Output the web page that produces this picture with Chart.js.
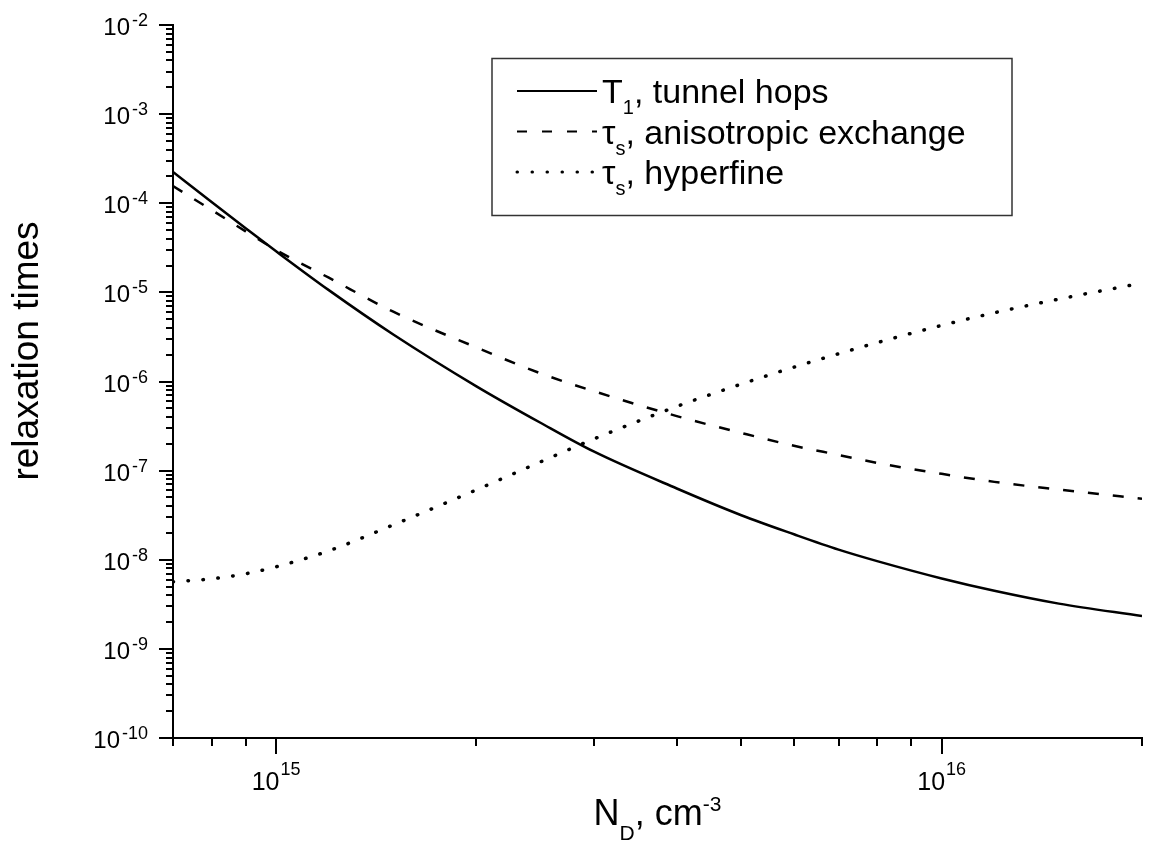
<!DOCTYPE html>
<html>
<head>
<meta charset="utf-8">
<script src="https://cdn.jsdelivr.net/npm/chart.js@4.4.1/dist/chart.umd.min.js"></script>
<style>
html,body{margin:0;padding:0;background:#fff;}
canvas{display:block;}
</style>
</head>
<body>
<canvas id="c" width="1159" height="843"></canvas>
<script>
// ---- data (N_D in cm^-3, times in s) ----
const ndValues = [7e14, 8e14, 9e14, 1e15, 1.2e15, 1.5e15, 2e15, 2.5e15, 3e15, 4e15, 5e15, 6e15, 7e15, 8e15, 1e16, 1.2e16, 1.5e16, 2e16];
const t1TunnelHops = [2.24e-4, 1.03e-4, 5.25e-5, 2.89e-5, 1.06e-5, 3.37e-6, 8.83e-7, 3.42e-7, 1.64e-7, 6.3e-8, 3.16e-8, 1.93e-8, 1.30e-8, 9.66e-9, 6.17e-9, 4.49e-9, 3.22e-9, 2.33e-9];
const tauAnisoExchange = [1.56e-4, 8.4e-5, 4.84e-5, 2.99e-5, 1.46e-5, 6.07e-6, 2.41e-6, 1.23e-6, 7.8e-7, 4.09e-7, 2.65e-7, 1.9e-7, 1.5e-7, 1.22e-7, 9.2e-8, 7.48e-8, 6.13e-8, 4.83e-8];
const tauHyperfine = [5.66e-9, 6.11e-9, 6.96e-9, 8.34e-9, 1.26e-8, 2.46e-8, 6.09e-8, 1.26e-7, 2.26e-7, 5.25e-7, 9.35e-7, 1.45e-6, 2.05e-6, 2.73e-6, 4.26e-6, 5.9e-6, 8.4e-6, 1.27e-5];
const xTickExponents = [15, 16];
const yTickExponents = [-10, -9, -8, -7, -6, -5, -4, -3, -2];
const xRange = [7e14, 2e16];
const yRange = [1e-10, 1e-2];
const legendEntries = [
  {main: 'T', sub: '1', rest: ', tunnel hops'},
  {main: 'τ', sub: 's', rest: ', anisotropic exchange'},
  {main: 'τ', sub: 's', rest: ', hyperfine'}
];
const yTitle = 'relaxation times';
const xTitle = {main: 'N', sub: 'D', mid: ', cm', sup: '-3'};

const FONT = '"Liberation Sans", Arial, Helvetica, sans-serif';
const styles = [
  {dash: [], width: 2.5, cap: 'butt'},
  {dash: [11, 14], width: 2.5, cap: 'butt'},
  {dash: [0.5, 14.5], width: 3.5, cap: 'round'}
];

function minorValues(range) {
  const out = [];
  const lo = Math.floor(Math.log10(range[0])), hi = Math.ceil(Math.log10(range[1]));
  for (let e = lo; e <= hi; e++) {
    for (let m = 1; m <= 9; m++) {
      const v = m * Math.pow(10, e);
      if (v >= range[0] * 0.999 && v <= range[1] * 1.001) out.push({v, major: m === 1});
    }
  }
  return out;
}

const deco = {
  id: 'deco',
  afterDraw(chart) {
    const ctx = chart.ctx, xs = chart.scales.x, ys = chart.scales.y, ca = chart.chartArea;
    ctx.save();
    ctx.strokeStyle = '#000';
    ctx.fillStyle = '#000';
    ctx.lineWidth = 2;
    ctx.lineCap = 'butt';
    // y ticks
    minorValues(yRange).forEach(t => {
      const py = Math.round(ys.getPixelForValue(t.v));
      const len = t.major ? 14 : 7;
      ctx.beginPath(); ctx.moveTo(ca.left, py); ctx.lineTo(ca.left - len, py); ctx.stroke();
    });
    // x ticks
    minorValues(xRange).forEach(t => {
      const px = Math.round(xs.getPixelForValue(t.v));
      const len = t.major ? 16 : 8;
      ctx.beginPath(); ctx.moveTo(px, ca.bottom); ctx.lineTo(px, ca.bottom + len); ctx.stroke();
    });
    ctx.textBaseline = 'alphabetic';
    ctx.textAlign = 'left';
    // y tick labels
    yTickExponents.forEach(e => {
      const py = ys.getPixelForValue(Math.pow(10, e));
      const supTxt = String(e);
      ctx.font = '18px ' + FONT;
      const supW = ctx.measureText(supTxt).width;
      const right = ca.left - 25;
      ctx.fillText(supTxt, right - supW, py + 1);
      ctx.font = '24px ' + FONT;
      const baseW = ctx.measureText('10').width;
      ctx.fillText('10', right - supW - 2 - baseW, py + 10);
    });
    // x tick labels
    xTickExponents.forEach(e => {
      const px = xs.getPixelForValue(Math.pow(10, e));
      const supTxt = String(e);
      ctx.font = '25px ' + FONT;
      const baseW = ctx.measureText('10').width;
      ctx.font = '18px ' + FONT;
      const supW = ctx.measureText(supTxt).width;
      const start = px - (baseW + 1 + supW) / 2;
      ctx.font = '25px ' + FONT;
      ctx.fillText('10', start, ca.bottom + 52);
      ctx.font = '18px ' + FONT;
      ctx.fillText(supTxt, start + baseW + 1, ca.bottom + 37);
    });
    // y title
    ctx.save();
    ctx.translate(38, 351);
    ctx.rotate(-Math.PI / 2);
    ctx.textAlign = 'center';
    ctx.font = '37px ' + FONT;
    ctx.fillText(yTitle, 0, 0);
    ctx.restore();
    // x title
    {
      const big = '36px ' + FONT, small = '21px ' + FONT;
      ctx.font = big; const w1 = ctx.measureText(xTitle.main).width;
      const w3 = ctx.measureText(xTitle.mid).width;
      ctx.font = small; const w2 = ctx.measureText(xTitle.sub).width;
      const w4 = ctx.measureText(xTitle.sup).width;
      const total = w1 + w2 + w3 + w4;
      let x = (ca.left + ca.right) / 2 - total / 2;
      const base = 825;
      ctx.font = big; ctx.fillText(xTitle.main, x, base); x += w1;
      ctx.font = small; ctx.fillText(xTitle.sub, x, base + 15); x += w2;
      ctx.font = big; ctx.fillText(xTitle.mid, x, base); x += w3;
      ctx.font = small; ctx.fillText(xTitle.sup, x, base - 14);
    }
    // legend box
    ctx.lineWidth = 1.5;
    ctx.strokeStyle = '#333';
    ctx.strokeRect(492, 58.5, 520, 157);
    const baselines = [103, 143.5, 184];
    legendEntries.forEach((en, i) => {
      const st = styles[i];
      const by = baselines[i];
      const ly = by - 12;
      ctx.save();
      ctx.strokeStyle = '#000';
      ctx.lineWidth = i === 2 ? 3 : 2.2;
      ctx.lineCap = st.cap;
      ctx.setLineDash(i === 1 ? [10, 15] : st.dash);
      ctx.beginPath(); ctx.moveTo(517, ly); ctx.lineTo(597, ly); ctx.stroke();
      ctx.restore();
      let x = 602;
      ctx.font = '34px ' + FONT; ctx.fillText(en.main, x, by); x += ctx.measureText(en.main).width;
      ctx.font = '20px ' + FONT; ctx.fillText(en.sub, x, by + 11); x += ctx.measureText(en.sub).width;
      ctx.font = '34px ' + FONT; ctx.fillText(en.rest, x, by);
    });
    ctx.restore();
  }
};

function series(vals) { return ndValues.map((x, i) => ({x, y: vals[i]})); }

new Chart(document.getElementById('c'), {
  type: 'line',
  data: {
    datasets: [
      {label: 'T1, tunnel hops', data: series(t1TunnelHops)},
      {label: 'τs, anisotropic exchange', data: series(tauAnisoExchange)},
      {label: 'τs, hyperfine', data: series(tauHyperfine)}
    ].map((d, i) => Object.assign(d, {
      borderColor: '#000', backgroundColor: '#000', borderWidth: styles[i].width,
      borderDash: styles[i].dash, borderCapStyle: styles[i].cap,
      pointRadius: 0, fill: false, cubicInterpolationMode: 'monotone'
    }))
  },
  options: {
    responsive: false, animation: false, devicePixelRatio: 1,
    layout: {padding: {left: 173, right: 17, top: 25, bottom: 105}},
    plugins: {legend: {display: false}, tooltip: {enabled: false}},
    scales: {
      x: {type: 'logarithmic', min: xRange[0], max: xRange[1],
          grid: {display: false, drawTicks: false}, ticks: {display: false},
          border: {display: true, color: '#000', width: 2}},
      y: {type: 'logarithmic', min: yRange[0], max: yRange[1],
          grid: {display: false, drawTicks: false}, ticks: {display: false},
          border: {display: true, color: '#000', width: 2}}
    }
  },
  plugins: [deco]
});
</script>
</body>
</html>
